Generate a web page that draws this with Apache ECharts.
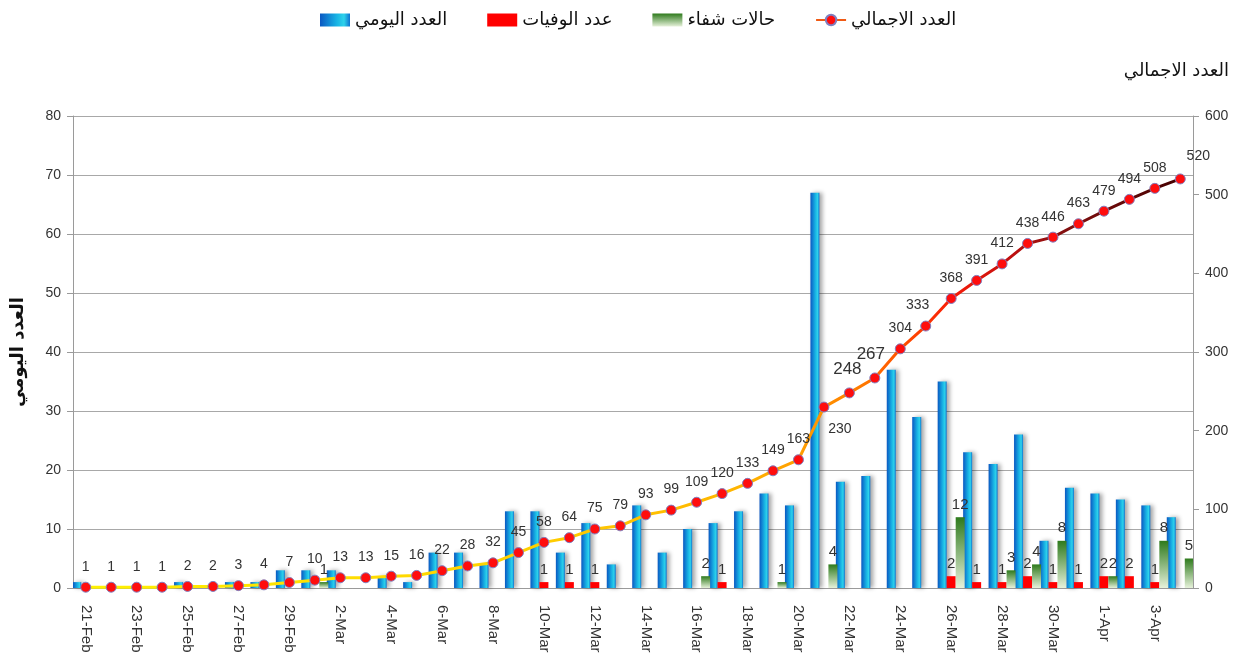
<!doctype html>
<html>
<head>
<meta charset="utf-8">
<title>العدد اليومي والاجمالي</title>
<script src="https://cdn.jsdelivr.net/npm/echarts@6/dist/echarts.min.js"></script>
<style>
body{margin:0;background:#fff;}
</style>
</head>
<body>
<div id="echarts" style="width:1239px;height:670px;"></div>
<script type="text/javascript">
var days=['21-Feb','22-Feb','23-Feb','24-Feb','25-Feb','26-Feb','27-Feb','28-Feb','29-Feb',
'1-Mar','2-Mar','3-Mar','4-Mar','5-Mar','6-Mar','7-Mar','8-Mar','9-Mar','10-Mar','11-Mar','12-Mar',
'13-Mar','14-Mar','15-Mar','16-Mar','17-Mar','18-Mar','19-Mar','20-Mar','21-Mar','22-Mar','23-Mar',
'24-Mar','25-Mar','26-Mar','27-Mar','28-Mar','29-Mar','30-Mar','31-Mar','1-Apr','2-Apr','3-Apr','4-Apr'];
var daily=[1,0,0,0,1,0,1,1,3,3,3,0,2,1,6,6,4,13,13,6,11,4,14,6,10,11,13,16,14,67,18,19,37,29,35,23,21,26,8,17,16,15,14,12];
var deaths=[0,0,0,0,0,0,0,0,0,0,0,0,0,0,0,0,0,0,1,1,1,0,0,0,0,1,0,0,0,0,0,0,0,0,2,1,1,2,1,1,2,2,1,0];
var recovered=[0,0,0,0,0,0,0,0,0,1,0,0,0,0,0,0,0,0,0,0,0,0,0,0,2,0,0,1,0,4,0,0,0,0,12,0,3,4,8,0,2,0,8,5];
var total=[1,1,1,1,2,2,3,4,7,10,13,13,15,16,22,28,32,45,58,64,75,79,93,99,109,120,133,149,163,230,248,267,304,333,368,391,412,438,446,463,479,494,508,520];

var arFont='DejaVu Sans';
var txtFont='Liberation Sans';

// a few point labels sit differently in the original
var labelTweaks={
	29:{position:'bottom',offset:[16,2]},
	30:{fontSize:17,offset:[-2,-2]},
	31:{fontSize:17,offset:[-4,-2]},
	33:{offset:[-8,0]},
	43:{offset:[18,-2]}
};
var totalData=total.map(function(v,i){
	var item={value:v};
	if(labelTweaks[i]) item.label=labelTweaks[i];
	return item;
});

var hideZero=function(p){return p.value?p.value:'';};

var mychart=echarts.init(document.getElementById('echarts'));
mychart.setOption({
	animation:false,
	textStyle:{fontFamily:txtFont},
	legend:{
		top:6,
		left:315,
		itemWidth:30,
		itemHeight:13,
		itemGap:40,
		textStyle:{fontFamily:arFont,fontSize:18,color:'#111'},
		data:[
			{name:'العدد اليومي',icon:'rect'},
			{name:'عدد الوفيات',icon:'rect'},
			{name:'حالات شفاء',icon:'rect'},
			{name:'العدد الاجمالي',lineStyle:{color:'#f05a14'},itemStyle:{color:'#ff0d0d'}}
		]
	},
	grid:{left:73,right:46,top:116,bottom:82},
	xAxis:{
		type:'category',
		data:days,
		axisLine:{lineStyle:{color:'#9a9a9a'}},
		axisTick:{length:6,lineStyle:{color:'#9a9a9a'}},
		axisLabel:{interval:1,rotate:-90,fontSize:15,color:'#333',margin:17}
	},
	yAxis:[{
		type:'value',
		min:0,max:80,interval:10,
		name:'العدد اليومي',
		nameLocation:'middle',
		nameGap:46,
		nameTextStyle:{fontFamily:arFont,fontSize:18,fontWeight:'bold',color:'#111'},
		axisLine:{show:true,lineStyle:{color:'#9a9a9a'}},
		axisTick:{show:true,length:6,lineStyle:{color:'#9a9a9a'}},
		axisLabel:{fontSize:14,color:'#333',margin:12},
		splitLine:{lineStyle:{color:'#a8a8a8'}}
	},{
		type:'value',
		min:0,max:600,interval:100,
		name:'العدد الاجمالي',
		nameLocation:'end',
		nameGap:36,
		nameTextStyle:{fontFamily:arFont,fontSize:18,color:'#111',align:'right',padding:[0,-36,0,0]},
		axisLine:{show:true,lineStyle:{color:'#9a9a9a'}},
		axisTick:{show:true,length:6,lineStyle:{color:'#9a9a9a'}},
		axisLabel:{fontSize:14,color:'#333',margin:12},
		splitLine:{show:false}
	}],
	series:[{
		name:'العدد اليومي',
		type:'bar',
		data:daily,
		barGap:'0%',
		barCategoryGap:'0%',
		barWidth:9,
		itemStyle:{
			color:new echarts.graphic.LinearGradient(0,0,1,0,[
				{offset:0,color:'#0a58c2'},
				{offset:0.55,color:'#18b2e4'},
				{offset:0.8,color:'#2ed2ea'},
				{offset:1,color:'#0d72d2'}
			]),
			shadowColor:'rgba(0,0,0,0.35)',
			shadowBlur:4,
			shadowOffsetX:3
		}
	},{
		name:'عدد الوفيات',
		type:'bar',
		data:deaths,
		barWidth:9,
		itemStyle:{color:'#ff0000'},
		label:{show:true,position:'top',fontSize:15,color:'#333',formatter:hideZero}
	},{
		name:'حالات شفاء',
		type:'bar',
		data:recovered,
		barWidth:9,
		itemStyle:{
			color:new echarts.graphic.LinearGradient(0,0,0,1,[
				{offset:0,color:'#2e7a1c'},
				{offset:1,color:'#e6f1da'}
			])
		},
		label:{show:true,position:'top',fontSize:15,color:'#333',formatter:hideZero}
	},{
		name:'العدد الاجمالي',
		type:'line',
		yAxisIndex:1,
		data:totalData,
		symbol:'circle',
		symbolSize:10,
		z:5,
		lineStyle:{
			width:3,
			color:new echarts.graphic.LinearGradient(0,0,1,0,[
				{offset:0,color:'#fff200'},
				{offset:0.4,color:'#ffd000'},
				{offset:0.6,color:'#ffb400'},
				{offset:0.66,color:'#ff9a00'},
				{offset:0.71,color:'#ff7800'},
				{offset:0.75,color:'#ff4a00'},
				{offset:0.79,color:'#f81c08'},
				{offset:0.84,color:'#c41010'},
				{offset:0.89,color:'#851010'},
				{offset:1,color:'#420000'}
			])
		},
		itemStyle:{color:'#ff0d0d',borderColor:'#7f7fbf',borderWidth:1},
		label:{show:true,position:'top',fontSize:14,color:'#333',distance:8}
	}]
});
</script>
</body>
</html>
